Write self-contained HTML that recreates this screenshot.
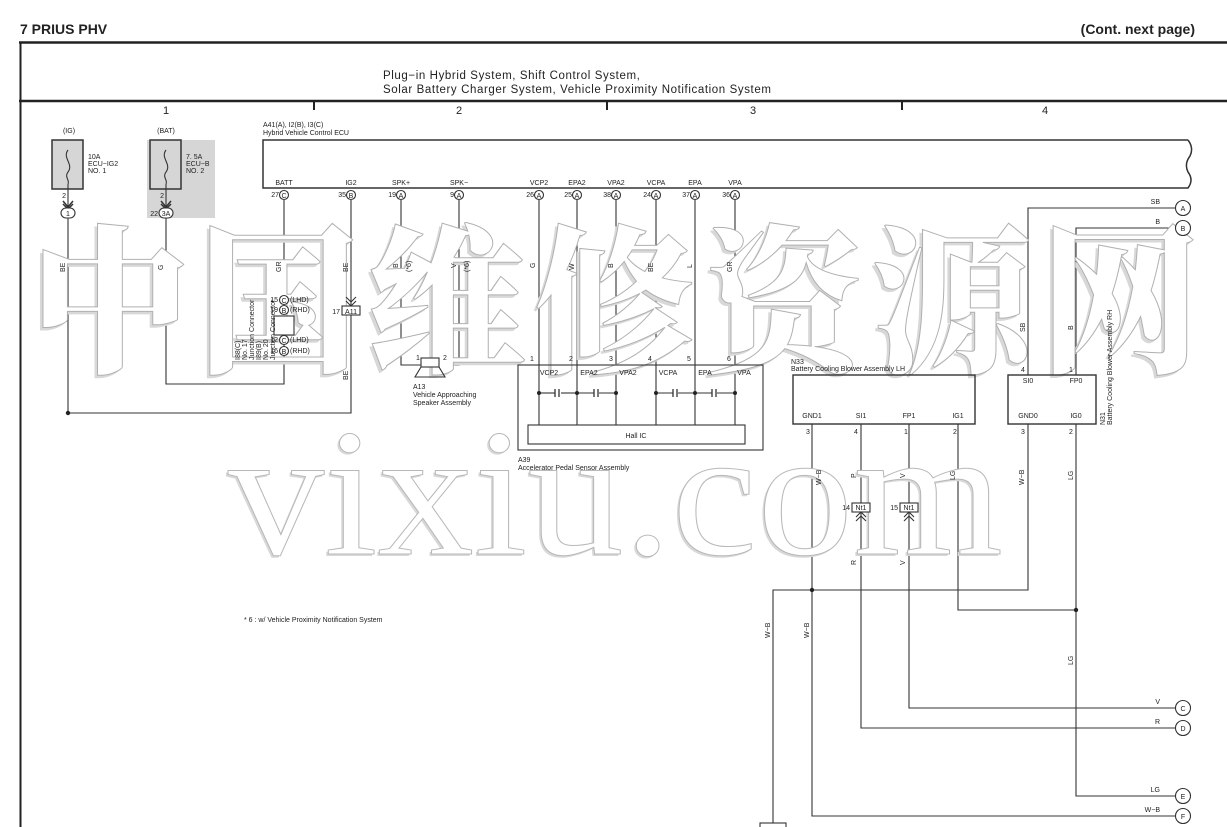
<!DOCTYPE html>
<html><head><meta charset="utf-8"><style>
html,body{margin:0;padding:0;background:#fff;}
svg{display:block;}
text{font-family:"Liberation Sans",sans-serif;fill:#222;}
.s{font-size:7px;}
.wm{font-family:"Noto Serif CJK SC","Noto Sans CJK SC",serif;font-weight:900;font-size:160px;fill:#fff;stroke:#b0b0b0;stroke-width:1;}
.wms{font-family:"Noto Serif CJK SC","Noto Sans CJK SC",serif;font-weight:900;font-size:160px;fill:#d8d8d8;stroke:none;}
.wm2{font-family:"Liberation Serif",serif;font-size:182px;fill:#fff;stroke:#b8b8b8;stroke-width:1;}
.wm2s{font-family:"Liberation Serif",serif;font-size:182px;fill:#d8d8d8;}
</style></head><body>
<svg width="1227" height="827" viewBox="0 0 1227 827" xmlns="http://www.w3.org/2000/svg">
<rect width="1227" height="827" fill="#fff"/>
<text x="20" y="34" style="font-size:14px;font-weight:bold">7  PRIUS PHV</text>
<text x="1195" y="34" text-anchor="end" style="font-size:14px;font-weight:bold">(Cont.  next page)</text>
<line x1="19" y1="42.5" x2="1227" y2="42.5" stroke="#222" stroke-width="2.5"/>
<line x1="20.5" y1="42" x2="20.5" y2="827" stroke="#222" stroke-width="2"/>
<line x1="19" y1="101" x2="1227" y2="101" stroke="#222" stroke-width="2.5"/>
<text x="383" y="79" style="font-size:11.5px;letter-spacing:0.6px">Plug−in Hybrid System,  Shift Control System,</text>
<text x="383" y="93" style="font-size:11.5px;letter-spacing:0.6px">Solar Battery Charger System,  Vehicle Proximity Notification System</text>
<g stroke="#222" stroke-width="2"><line x1="314" y1="101" x2="314" y2="110"/><line x1="607" y1="101" x2="607" y2="110"/><line x1="902" y1="101" x2="902" y2="110"/></g>
<g style="font-size:11px"><text x="163" y="114">1</text><text x="456" y="114">2</text><text x="750" y="114">3</text><text x="1042" y="114">4</text></g>

<g fill="none" stroke="#333" stroke-width="1.1">
<rect x="147" y="140" width="68" height="78" fill="#d6d6d6" stroke="none"/>
<rect x="52" y="140" width="31" height="49" fill="#d6d6d6" stroke-width="1.5"/>
<rect x="150" y="140" width="31" height="49" fill="#d6d6d6" stroke-width="1.5"/>
<path d="M68 150 c-6 8 6 14 0 22 c-4 5 2 8 0 12"/>
<path d="M166 150 c-6 8 6 14 0 22 c-4 5 2 8 0 12"/>
<line x1="68" y1="184" x2="68" y2="207"/><line x1="166" y1="184" x2="166" y2="207"/>
<path d="M63 201 l5 6 l5 -6 M63 204 l5 5 l5 -5" stroke-width="1.5"/>
<path d="M161 201 l5 6 l5 -6 M161 204 l5 5 l5 -5" stroke-width="1.5"/>
<polyline points="68,218 68,413 351,413 351,200"/>
<polyline points="166,218 166,384 284,384 284,200"/>
<path d="M1188 140 L263 140 L263 188 L1188 188 q6 -8 0 -16 q-4 -8 2 -16 q4 -8 -2 -16" stroke-width="1.5"/>
<polyline points="401,200 401,365 459,365 459,200"/>
<line x1="539" y1="200" x2="539" y2="425"/><line x1="577" y1="200" x2="577" y2="425"/><line x1="616" y1="200" x2="616" y2="425"/>
<line x1="656" y1="200" x2="656" y2="425"/><line x1="695" y1="200" x2="695" y2="425"/><line x1="735" y1="200" x2="735" y2="425"/>
<polyline points="1028,375 1028,208 1176,208"/>
<polyline points="1076,375 1076,228 1176,228"/>
<polyline points="812,424 812,816 1176,816"/>
<polyline points="861,424 861,728 1176,728"/>
<polyline points="909,424 909,708 1176,708"/>
<polyline points="958,424 958,610 1076,610"/>
<polyline points="1076,424 1076,796 1176,796"/>
<polyline points="1028,424 1028,590 773,590 773,823"/>
</g>

<g>
<text class="wms" x="27" y="363" textLength="1170" lengthAdjust="spacing">中国维修资源网</text>
<text class="wm" x="30" y="360" textLength="1170" lengthAdjust="spacing">中国维修资源网</text>
<text class="wm2s" x="226" y="556" textLength="775" lengthAdjust="spacingAndGlyphs">vixiu.com</text>
<text class="wm2" x="228" y="554" textLength="775" lengthAdjust="spacingAndGlyphs">vixiu.com</text>
</g>

<g fill="none" stroke="#333" stroke-width="1.1">
<rect x="61" y="208" width="14" height="10" rx="5" fill="#fff"/>
<rect x="159" y="208" width="14" height="10" rx="5" fill="#fff"/>
<rect x="274" y="316" width="20" height="19" fill="#fff"/>
<rect x="342" y="306" width="18" height="9" fill="#fff"/>
<path d="M346 297 l5 5 l5 -5 M346 301 l5 5 l5 -5"/>
<rect x="421" y="358" width="18" height="9" fill="#fff"/>
<path d="M421 367 L415 377 L445 377 L439 367"/>
<rect x="518" y="365" width="245" height="85"/>
<rect x="528" y="425" width="217" height="19"/>
<line x1="539" y1="393" x2="555" y2="393"/><line x1="561" y1="393" x2="577" y2="393"/>
<line x1="577" y1="393" x2="594" y2="393"/><line x1="599" y1="393" x2="616" y2="393"/>
<line x1="656" y1="393" x2="673" y2="393"/><line x1="678" y1="393" x2="695" y2="393"/>
<line x1="695" y1="393" x2="712" y2="393"/><line x1="717" y1="393" x2="735" y2="393"/>
<path d="M555 389v8M559 389v8M594 389v8M598 389v8M673 389v8M677 389v8M712 389v8M716 389v8" stroke-width="1.3"/>
<rect x="793" y="375" width="182" height="49" stroke-width="1.4"/>
<rect x="1008" y="375" width="88" height="49" stroke-width="1.4"/>
<rect x="760" y="823" width="26" height="6" fill="#fff"/>
<rect x="852" y="503" width="18" height="9" fill="#fff"/>
<rect x="900" y="503" width="18" height="9" fill="#fff"/>
<path d="M856 521 l5 -5 l5 5 M856 517 l5 -5 l5 5 M904 521 l5 -5 l5 5 M904 517 l5 -5 l5 5"/>
</g>
<g fill="#222"><circle cx="68" cy="413" r="2.2"/><circle cx="812" cy="590" r="2.2"/><circle cx="1076" cy="610" r="2.2"/>
<circle cx="539" cy="393" r="2"/><circle cx="577" cy="393" r="2"/><circle cx="616" cy="393" r="2"/><circle cx="656" cy="393" r="2"/><circle cx="695" cy="393" r="2"/><circle cx="735" cy="393" r="2"/></g>

<g fill="#fff" stroke="#333" stroke-width="1.1">
<circle cx="284" cy="195" r="4.5"/><circle cx="351" cy="195" r="4.5"/><circle cx="401" cy="195" r="4.5"/><circle cx="459" cy="195" r="4.5"/>
<circle cx="539" cy="195" r="4.5"/><circle cx="577" cy="195" r="4.5"/><circle cx="616" cy="195" r="4.5"/><circle cx="656" cy="195" r="4.5"/><circle cx="695" cy="195" r="4.5"/><circle cx="735" cy="195" r="4.5"/>
<circle cx="284" cy="300" r="4.5"/><circle cx="284" cy="310" r="4.5"/><circle cx="284" cy="340" r="4.5"/><circle cx="284" cy="351" r="4.5"/>
<circle cx="1183" cy="208" r="7.5"/><circle cx="1183" cy="228" r="7.5"/><circle cx="1183" cy="708" r="7.5"/><circle cx="1183" cy="728" r="7.5"/><circle cx="1183" cy="796" r="7.5"/><circle cx="1183" cy="816" r="7.5"/>
</g>
<g class="s" text-anchor="middle">
<text x="284" y="198">C</text><text x="351" y="198">B</text><text x="401" y="198">A</text><text x="459" y="198">A</text>
<text x="539" y="198">A</text><text x="577" y="198">A</text><text x="616" y="198">A</text><text x="656" y="198">A</text><text x="695" y="198">A</text><text x="735" y="198">A</text>
<text x="284" y="303">C</text><text x="284" y="313">B</text><text x="284" y="343">C</text><text x="284" y="354">B</text>
<text x="68" y="216">1</text><text x="166" y="216">3A</text><text x="351" y="314">A11</text>
<text x="861" y="510">Nt1</text><text x="909" y="510">Nt1</text>
<text x="1183" y="211">A</text><text x="1183" y="231">B</text><text x="1183" y="711">C</text><text x="1183" y="731">D</text><text x="1183" y="799">E</text><text x="1183" y="819">F</text>
<text x="284" y="185">BATT</text><text x="351" y="185">IG2</text><text x="401" y="185">SPK+</text><text x="459" y="185">SPK−</text>
<text x="539" y="185">VCP2</text><text x="577" y="185">EPA2</text><text x="616" y="185">VPA2</text><text x="656" y="185">VCPA</text><text x="695" y="185">EPA</text><text x="735" y="185">VPA</text>
<text x="549" y="375">VCP2</text><text x="589" y="375">EPA2</text><text x="628" y="375">VPA2</text><text x="668" y="375">VCPA</text><text x="705" y="375">EPA</text><text x="744" y="375">VPA</text>
<text x="636" y="438">Hall IC</text>
<text x="812" y="418">GND1</text><text x="861" y="418">SI1</text><text x="909" y="418">FP1</text><text x="958" y="418">IG1</text>
<text x="1028" y="418">GND0</text><text x="1076" y="418">IG0</text><text x="1028" y="383">SI0</text><text x="1076" y="383">FP0</text>
<text x="69" y="133">(IG)</text><text x="166" y="133">(BAT)</text>
</g>
<g class="s" text-anchor="end">
<text x="279" y="197">27</text><text x="346" y="197">35</text><text x="396" y="197">19</text><text x="454" y="197">9</text>
<text x="534" y="197">26</text><text x="572" y="197">25</text><text x="611" y="197">38</text><text x="651" y="197">24</text><text x="690" y="197">37</text><text x="730" y="197">36</text>
<text x="278" y="302">15</text><text x="278" y="312">19</text><text x="278" y="342">12</text><text x="278" y="353">16</text>
<text x="340" y="314">17</text><text x="850" y="510">14</text><text x="898" y="510">15</text>
<text x="158" y="216">22</text><text x="66" y="198">2</text><text x="164" y="198">2</text>
<text x="1160" y="204">SB</text><text x="1160" y="224">B</text><text x="1160" y="704">V</text><text x="1160" y="724">R</text><text x="1160" y="792">LG</text><text x="1160" y="812">W−B</text>
</g>
<g class="s">
<text x="290" y="302">(LHD)</text><text x="290" y="312">(RHD)</text><text x="290" y="342">(LHD)</text><text x="290" y="353">(RHD)</text>
<text x="88" y="159">10A</text><text x="88" y="166">ECU−IG2</text><text x="88" y="173">NO. 1</text>
<text x="186" y="159">7. 5A</text><text x="186" y="166">ECU−B</text><text x="186" y="173">NO. 2</text>
<text x="263" y="127">A41(A), I2(B), I3(C)</text><text x="263" y="135">Hybrid Vehicle Control ECU</text>
<text x="413" y="389">A13</text><text x="413" y="397">Vehicle Approaching</text><text x="413" y="405">Speaker Assembly</text>
<text x="518" y="462">A39</text><text x="518" y="470">Accelerator Pedal Sensor Assembly</text>
<text x="791" y="364">N33</text><text x="791" y="371">Battery Cooling Blower Assembly LH</text>
<text x="244" y="622">* 6 : w/ Vehicle Proximity Notification System</text>
<text x="416" y="360">1</text><text x="443" y="360">2</text>
<text x="530" y="361">1</text><text x="569" y="361">2</text><text x="609" y="361">3</text><text x="648" y="361">4</text><text x="687" y="361">5</text><text x="727" y="361">6</text>
<text x="806" y="434">3</text><text x="854" y="434">4</text><text x="904" y="434">1</text><text x="953" y="434">2</text>
<text x="1021" y="434">3</text><text x="1069" y="434">2</text><text x="1021" y="372">4</text><text x="1069" y="372">1</text>
</g>
<g class="s">
<text transform="translate(65,272) rotate(-90)">BE</text>
<text transform="translate(163,270) rotate(-90)">G</text>
<text transform="translate(281,272) rotate(-90)">GR</text>
<text transform="translate(348,272) rotate(-90)">BE</text>
<text transform="translate(398,268) rotate(-90)">B</text><text transform="translate(411,272) rotate(-90)">(*6)</text>
<text transform="translate(456,268) rotate(-90)">V</text><text transform="translate(469,272) rotate(-90)">(*6)</text>
<text transform="translate(535,268) rotate(-90)">G</text><text transform="translate(574,270) rotate(-90)">W</text>
<text transform="translate(613,268) rotate(-90)">B</text><text transform="translate(653,272) rotate(-90)">BE</text>
<text transform="translate(692,268) rotate(-90)">L</text><text transform="translate(732,272) rotate(-90)">GR</text>
<text transform="translate(348,380) rotate(-90)">BE</text>
<text transform="translate(240,360) rotate(-90)">I88(C)</text><text transform="translate(247,360) rotate(-90)">No. 17</text>
<text transform="translate(254,360) rotate(-90)">Junction Connector</text>
<text transform="translate(261,360) rotate(-90)">I89(B)</text><text transform="translate(268,360) rotate(-90)">No. 20</text>
<text transform="translate(275,360) rotate(-90)">Junction Connector</text>
<text transform="translate(1025,332) rotate(-90)">SB</text><text transform="translate(1073,330) rotate(-90)">B</text>
<text transform="translate(1105,425) rotate(-90)">N31</text><text transform="translate(1112,425) rotate(-90)">Battery Cooling Blower Assembly RH</text>
<text transform="translate(821,485) rotate(-90)">W−B</text><text transform="translate(856,478) rotate(-90)">P</text>
<text transform="translate(905,478) rotate(-90)">V</text><text transform="translate(955,480) rotate(-90)">LG</text>
<text transform="translate(1024,485) rotate(-90)">W−B</text><text transform="translate(1073,480) rotate(-90)">LG</text>
<text transform="translate(856,565) rotate(-90)">R</text><text transform="translate(905,565) rotate(-90)">V</text>
<text transform="translate(770,638) rotate(-90)">W−B</text><text transform="translate(809,638) rotate(-90)">W−B</text>
<text transform="translate(1073,665) rotate(-90)">LG</text>
</g>
</svg>
</body></html>
